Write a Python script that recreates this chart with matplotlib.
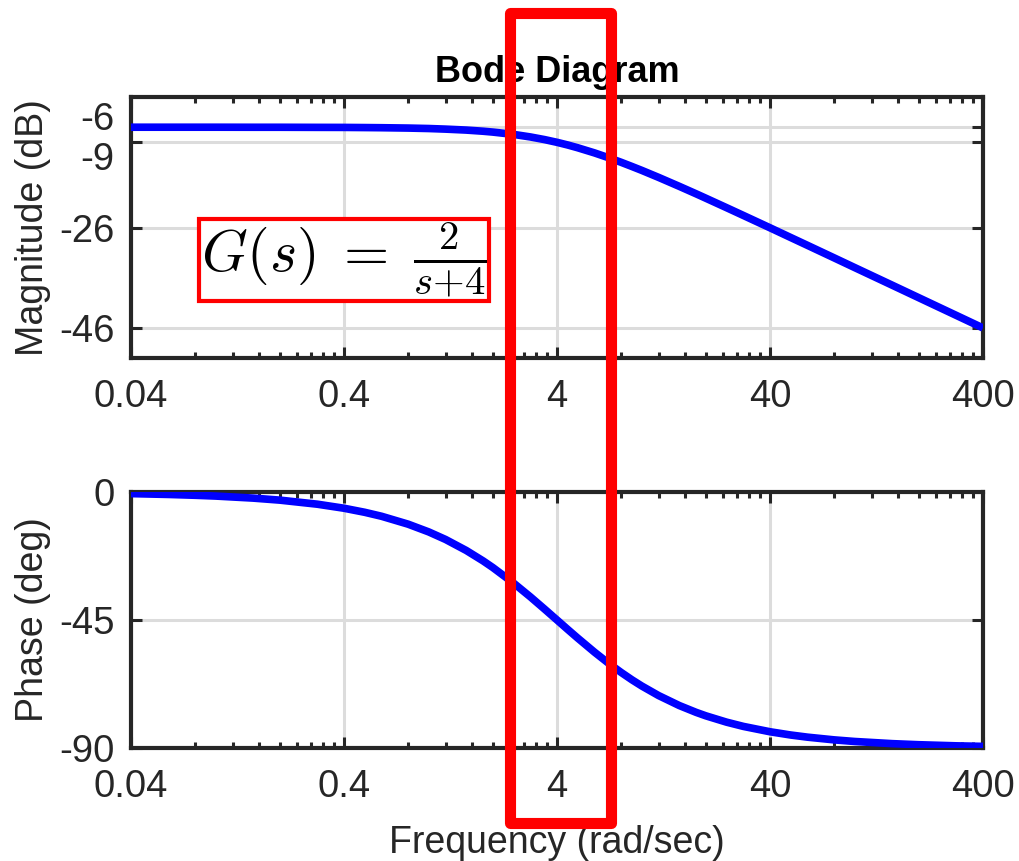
import matplotlib
matplotlib.use("Agg")
import matplotlib.pyplot as plt
import matplotlib.transforms as mtransforms
from matplotlib.patches import Rectangle
from matplotlib.ticker import FixedLocator, NullFormatter, FixedFormatter

# ---- data ----
freq = [0.04, 0.06, 0.08, 0.1, 0.15, 0.2, 0.3, 0.4, 0.5, 0.6, 0.8, 1.0, 1.2, 1.5, 1.8,
        2.0, 2.5, 3.0, 3.5, 4.0, 4.5, 5.0, 6.0, 7.0, 8.0, 9.0, 10.0, 12.0, 15.0, 18.0,
        20.0, 25.0, 30.0, 40.0, 50.0, 60.0, 80.0, 100.0, 150.0, 200.0, 300.0, 400.0]
mag_db = [-6.02, -6.02, -6.02, -6.02, -6.03, -6.03, -6.05, -6.06, -6.09, -6.12, -6.19,
          -6.28, -6.40, -6.59, -6.82, -6.99, -7.45, -7.96, -8.49, -9.03, -9.57, -10.11,
          -11.14, -12.11, -13.01, -13.85, -14.62, -16.02, -17.80, -19.29, -20.17,
          -22.05, -23.60, -26.06, -27.99, -29.56, -32.05, -33.99, -37.50, -40.00,
          -43.52, -46.02]
phase_deg = [-0.57, -0.86, -1.15, -1.43, -2.15, -2.86, -4.29, -5.71, -7.13, -8.53,
             -11.31, -14.04, -16.70, -20.56, -24.23, -26.57, -32.01, -36.87, -41.19,
             -45.00, -48.37, -51.34, -56.31, -60.26, -63.43, -66.04, -68.20, -71.57,
             -75.07, -77.47, -78.69, -80.91, -82.41, -84.29, -85.43, -86.19, -87.14,
             -87.71, -88.47, -88.85, -89.24, -89.43]

x_ticks = [0.04, 0.4, 4, 40, 400]
x_ticklabels = ["0.04", "0.4", "4", "40", "400"]
mag_ticks = [-46, -26, -9, -6]
mag_ticklabels = ["-46", "-26", "-9", "-6"]
phase_ticks = [-90, -45, 0]
phase_ticklabels = ["-90", "-45", "0"]

title = "Bode Diagram"
mag_label = "Magnitude (dB)"
phase_label = "Phase (deg)"
freq_label = "Frequency (rad/sec)"
formula = r"$G(s)\;=\;\frac{2}{s{+}4}$"

plt.rcParams["font.family"] = ["Liberation Sans", "DejaVu Sans"]
plt.rcParams["mathtext.fontset"] = "cm"

W, H = 1019, 861
fig = plt.figure(figsize=(W / 100, H / 100), dpi=100)

dark = "#262626"
fs = 27.5

ax1 = fig.add_axes([131 / W, 1 - 358 / H, 852 / W, 261 / H])
ax2 = fig.add_axes([131 / W, 1 - 748 / H, 852 / W, 256 / H])

minor_pos = [0.4 * k * 10.0 ** n for n in range(-1, 3) for k in range(2, 10)]

for ax in (ax1, ax2):
    ax.set_xscale("log")
    ax.set_xlim(0.04, 400)
    ax.xaxis.set_major_locator(FixedLocator(x_ticks))
    ax.xaxis.set_major_formatter(FixedFormatter(x_ticklabels))
    ax.xaxis.set_minor_locator(FixedLocator(minor_pos))
    ax.xaxis.set_minor_formatter(NullFormatter())
    for s in ax.spines.values():
        s.set_linewidth(3)
        s.set_color(dark)
    ax.grid(True, which="major", color="#dcdcdc", lw=2.2)
    ax.tick_params(which="both", direction="in", top=True, right=True,
                   color=dark, labelcolor=dark, labelsize=fs, width=2.2)
    ax.tick_params(which="major", length=8, pad=12)
    ax.tick_params(axis="x", which="major", pad=15)
    ax.tick_params(which="minor", length=4.5)

ax1.plot(freq, mag_db, color="#0000ff", lw=5.5, solid_capstyle="butt", zorder=3)
ax1.set_ylim(-52, 0)
ax1.set_yticks(mag_ticks)
ax1.set_yticklabels(mag_ticklabels)

ax2.plot(freq, phase_deg, color="#0000ff", lw=5.5, solid_capstyle="butt", zorder=3)
ax2.set_ylim(-90, 0)
ax2.set_yticks(phase_ticks)
ax2.set_yticklabels(phase_ticklabels)

# nudge the close -6 / -9 labels apart, as in the reference
shifts = {"-6": 0.11, "-9": -0.14}
for lab in ax1.get_yticklabels():
    t = lab.get_text()
    if t in shifts:
        lab.set_transform(lab.get_transform() +
                          mtransforms.ScaledTranslation(0, shifts[t], fig.dpi_scale_trans))

ax1.set_ylabel(mag_label, fontsize=27, color=dark)
ax1.yaxis.set_label_coords(-0.094, 0.5)
ax2.set_ylabel(phase_label, fontsize=27, color=dark)
ax2.yaxis.set_label_coords(-0.094, 0.5)
ax2.set_xlabel(freq_label, fontsize=27, color=dark)
ax2.xaxis.set_label_coords(0.5, -0.30)

ax1.set_title(title, fontsize=26, fontweight="bold", color="black", pad=11)

ax1.text(0.25, 0.375, formula, transform=ax1.transAxes, fontsize=42,
         ha="center", va="center", color="black", zorder=5,
         bbox=dict(boxstyle="square,pad=0.03", fc="white", ec="#ff0000", lw=3))

rect = Rectangle((509.5 / W, 1 - 823 / H), 101.5 / W, 810.5 / H,
                 transform=fig.transFigure, fill=False, ec="#ff0000", lw=8,
                 joinstyle="round", zorder=10)
fig.add_artist(rect)

fig.savefig("out.png", dpi=100, facecolor="white")
